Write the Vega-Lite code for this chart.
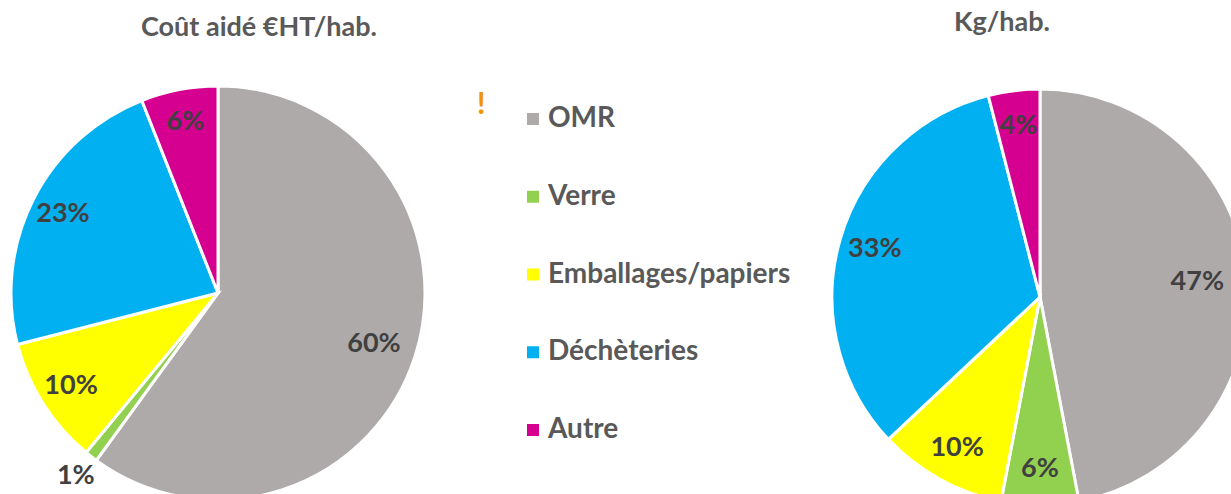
{
  "$schema": "https://vega.github.io/schema/vega-lite/v6.json",
  "padding": 0,
  "background": "white",
  "spacing": 396,
  "bounds": "flush",
  "config": {"view": {"stroke": null}, "font": "Lato"},
  "datasets": {
    "cout": [
      {"k": 1, "cat": "OMR", "share": 0.60},
      {"k": 2, "cat": "Verre", "share": 0.01},
      {"k": 3, "cat": "Emballages/papiers", "share": 0.10},
      {"k": 4, "cat": "Déchèteries", "share": 0.23},
      {"k": 5, "cat": "Autre", "share": 0.06}
    ],
    "kg": [
      {"k": 1, "cat": "OMR", "share": 0.47},
      {"k": 2, "cat": "Verre", "share": 0.06},
      {"k": 3, "cat": "Emballages/papiers", "share": 0.10},
      {"k": 4, "cat": "Déchèteries", "share": 0.33},
      {"k": 5, "cat": "Autre", "share": 0.04}
    ]
  },
  "hconcat": [
    {
      "width": 436,
      "height": 586,
      "title": {"text": "Coût aidé €HT/hab.", "anchor": "middle", "dx": 41, "offset": -63, "baseline": "alphabetic", "fontSize": 27, "fontWeight": "bold", "color": "#595959", "font": "Lato"},
      "data": {"name": "cout"},
      "encoding": {
        "theta": {"field": "share", "type": "quantitative", "stack": true},
        "order": {"field": "k", "type": "quantitative"}
      },
      "layer": [
        {
          "mark": {"type": "arc", "radius": 207, "stroke": "white", "strokeWidth": 3},
          "encoding": {
            "color": {
              "field": "cat", "type": "nominal",
              "scale": {"domain": ["OMR", "Verre", "Emballages/papiers", "Déchèteries", "Autre"], "range": ["#AEAAAA", "#92D050", "#FFFF00", "#00B0F0", "#D5008F"]},
              "legend": {
                "orient": "none", "legendX": 477, "legendY": 105, "padding": 0,
                "title": "!", "titleOrient": "left", "titleAngle": 0, "titleAnchor": "start", "titleBaseline": "middle", "titlePadding": 33, "titleColor": "#F29400", "titleFontSize": 30, "titleFont": "Lato", "titleFontWeight": "bold",
                "symbolType": "square", "symbolSize": 144, "symbolStrokeWidth": 0,
                "labelFontSize": 28, "labelFont": "Lato", "labelFontWeight": "bold", "labelColor": "#595959", "labelOffset": 1, "labelLimit": 400,
                "rowPadding": 49.75
              }
            }
          }
        },
        {
          "mark": {"type": "text", "fontSize": 27, "fontWeight": "bold", "font": "Lato", "radius": {"expr": "datum.share < 0.02 ? 232 : (datum.k == 1 ? 164 : 174)"}},
          "encoding": {
            "text": {"field": "share", "type": "quantitative", "format": ".0%"},
            "color": {"value": "#404040"}
          }
        }
      ]
    },
    {
      "width": 416,
      "height": 594,
      "title": {"text": "Kg/hab.", "anchor": "middle", "dx": -38, "offset": -58, "baseline": "alphabetic", "fontSize": 27, "fontWeight": "bold", "color": "#595959", "font": "Lato"},
      "data": {"name": "kg"},
      "encoding": {
        "theta": {"field": "share", "type": "quantitative", "stack": true},
        "order": {"field": "k", "type": "quantitative"}
      },
      "layer": [
        {
          "mark": {"type": "arc", "radius": 208, "stroke": "white", "strokeWidth": 3},
          "encoding": {
            "color": {"field": "cat", "type": "nominal"}
          }
        },
        {
          "mark": {"type": "text", "fontSize": 27, "fontWeight": "bold", "font": "Lato", "radius": {"expr": "datum.k == 1 ? 158 : 172"}},
          "encoding": {
            "text": {"field": "share", "type": "quantitative", "format": ".0%"},
            "color": {"value": "#404040"}
          }
        }
      ]
    }
  ]
}
